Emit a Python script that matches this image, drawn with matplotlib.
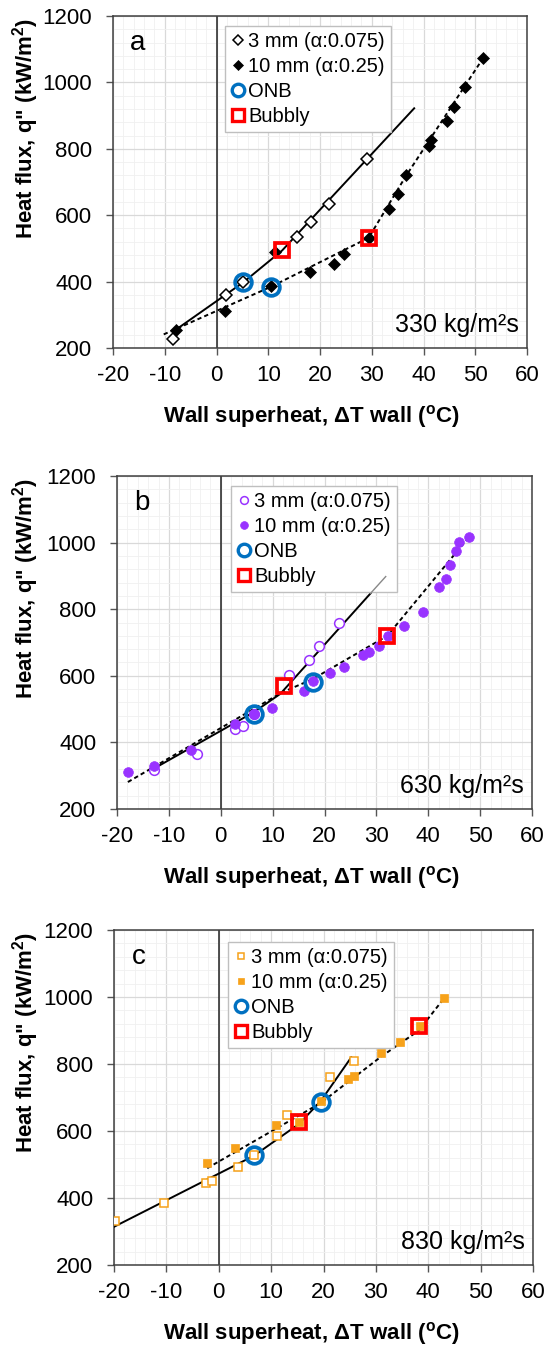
import matplotlib
matplotlib.use('Agg')
import matplotlib.pyplot as plt
from matplotlib.ticker import MultipleLocator
from matplotlib.lines import Line2D

plt.rcParams['font.family'] = ['Liberation Sans', 'DejaVu Sans']
plt.rcParams['mathtext.fontset'] = 'custom'
plt.rcParams['mathtext.rm'] = 'Liberation Sans'
plt.rcParams['mathtext.bf'] = 'Liberation Sans:bold'
plt.rcParams['mathtext.default'] = 'regular'
plt.rcParams['axes.unicode_minus'] = False

# ---------- panel a : 330 kg/m2s ----------
a_3mm_dt = [-8.4, 1.9, 5.2, 15.5, 18.2, 21.8, 29.0]
a_3mm_q = [228, 360, 398, 533, 581, 635, 768]
a_10mm_dt = [-7.9, 1.6, 10.6, 11.3, 18.0, 22.8, 24.7, 29.4, 33.3, 35.1, 36.6,
             41.1, 41.5, 44.6, 45.9, 48.0, 51.5]
a_10mm_q = [253, 311, 386, 490, 429, 454, 482, 531, 620, 665, 722,
            808, 828, 884, 925, 985, 1072]
a_onb_dt = [5.2, 10.6]
a_onb_q = [398, 385]
a_bub_dt = [12.7, 29.4]
a_bub_q = [494, 532]
a_fit3_dt = [-8.5, 5.2, 12.7, 38.2]
a_fit3_q = [248, 398, 494, 922]
a_fit10_dt = [-10.2, 10.6, 29.4, 36.6, 51.6]
a_fit10_q = [241, 385, 532, 718, 1075]

# ---------- panel b : 630 kg/m2s ----------
b_3mm_dt = [-12.8, -4.5, 2.8, 4.2, 6.5, 13.2, 17.0, 19.0, 22.8]
b_3mm_q = [318, 365, 441, 450, 485, 603, 648, 690, 760]
b_10mm_dt = [-17.9, -12.8, -5.7, 2.8, 6.5, 9.9, 16.1, 17.7, 21.0, 23.7, 27.4,
             28.6, 30.5, 32.3, 35.4, 39.0, 42.1, 43.5, 44.1, 45.4, 45.9, 47.9]
b_10mm_q = [311, 328, 378, 455, 485, 503, 553, 583, 608, 625, 663,
            670, 690, 720, 751, 791, 866, 891, 933, 975, 1003, 1018]
b_onb_dt = [6.5, 17.7]
b_onb_q = [485, 581]
b_bub_dt = [12.2, 32.1]
b_bub_q = [568, 720]
b_fit3_dt = [-12.7, 6.5, 11.5, 28.9]
b_fit3_q = [323, 492, 546, 848]
b_fit3_ext_dt = [28.9, 31.8]
b_fit3_ext_q = [848, 898]
b_fit10_dt = [-17.9, 11.8, 17.7, 32.1, 47.9]
b_fit10_q = [281, 550, 590, 720, 1018]

# ---------- panel c : 830 kg/m2s ----------
c_3mm_dt = [-19.9, -10.5, -2.4, -1.3, 3.6, 6.7, 11.1, 13.0, 21.3, 25.9]
c_3mm_q = [332, 384, 444, 452, 494, 528, 586, 648, 762, 809]
c_10mm_dt = [-2.2, 3.1, 10.9, 15.4, 19.5, 24.6, 25.8, 31.0, 34.7, 38.5, 43.1]
c_10mm_q = [505, 548, 618, 628, 690, 755, 765, 832, 865, 914, 998]
c_onb_dt = [6.7, 19.5]
c_onb_q = [528, 687]
c_bub_dt = [15.4, 38.2]
c_bub_q = [626, 914]
c_fit3_dt = [-20.0, 6.7, 15.4, 19.5, 25.3]
c_fit3_q = [314, 526, 622, 690, 820]
c_fit10_dt = [-2.2, 19.5, 31.0, 38.2, 43.1]
c_fit10_q = [489, 684, 822, 900, 998]

x_ticks = [-20, -10, 0, 10, 20, 30, 40, 50, 60]
y_ticks = [200, 400, 600, 800, 1000, 1200]

onb_color = '#0070c0'
bub_color = '#ff0000'

W, H = 555, 1345
fig = plt.figure(figsize=(W / 100, H / 100), dpi=100)


def panel(box, letter, flux, color, m3, m10, s3, s10,
          d3, d10, onb, bub, fit3, fit10, leg_px, ext=None):
    left, top, right, bottom = box
    ax = fig.add_axes([left / W, 1 - bottom / H, (right - left) / W, (bottom - top) / H])
    aw, ah = right - left, bottom - top

    ax.set_xlim(-20, 60)
    ax.set_ylim(200, 1200)
    ax.set_xticks(x_ticks)
    ax.set_yticks(y_ticks)
    ax.xaxis.set_minor_locator(MultipleLocator(2))
    ax.yaxis.set_minor_locator(MultipleLocator(40))
    ax.grid(True, which='major', color='#d9d9d9', lw=0.9)
    ax.grid(True, which='minor', color='#f0f0f0', lw=0.6)
    ax.set_axisbelow(True)
    ax.tick_params(which='major', direction='out', length=5, width=1, color='#555555',
                   labelsize=16, pad=10)
    ax.tick_params(axis='x', pad=7)
    ax.tick_params(which='minor', length=0)
    for s in ax.spines.values():
        s.set_color('#404040')
        s.set_linewidth(1.1)
    ax.axvline(0, color='#222222', lw=1.1, zorder=2)

    ax.plot(fit3[0], fit3[1], color='black', lw=1.4, zorder=3)
    if ext is not None:
        ax.plot(ext[0], ext[1], color='#888888', lw=1.0, zorder=7)
    ax.plot(fit10[0], fit10[1], color='black', lw=1.4, ls=(0, (2.2, 1.6)), zorder=3)

    ax.plot(d3[0], d3[1], ls='none', marker=m3, ms=s3, mfc='white', mec=color,
            mew=1.1, zorder=4)
    ax.plot(d10[0], d10[1], ls='none', marker=m10, ms=s10, mfc=color, mec=color,
            mew=0.5, zorder=4)
    ax.plot(onb[0], onb[1], ls='none', marker='o', ms=12, mfc='none', mec=onb_color,
            mew=2.7, zorder=5)
    ax.plot(bub[0], bub[1], ls='none', marker='s', ms=10.5, mfc='none', mec=bub_color,
            mew=2.7, zorder=5)

    handles = [
        Line2D([], [], ls='none', marker=m3, ms=s3 * 0.8, mfc='white', mec=color, mew=1.1),
        Line2D([], [], ls='none', marker=m10, ms=s10 * 0.8, mfc=color, mec=color, mew=0.5),
        Line2D([], [], ls='none', marker='o', ms=9, mfc='none', mec=onb_color, mew=2.4),
        Line2D([], [], ls='none', marker='s', ms=8.5, mfc='none', mec=bub_color, mew=2.4),
    ]
    labels = ['3 mm (α:0.075)', '10 mm (α:0.25)', 'ONB', 'Bubbly']
    lx, ly = leg_px
    leg = ax.legend(handles, labels, loc='upper left',
                    bbox_to_anchor=((lx - left) / aw, (bottom - ly) / ah),
                    borderaxespad=0, fontsize=14.5, handlelength=0.7,
                    handletextpad=0.15, borderpad=0.3, labelspacing=0.3,
                    fancybox=False, framealpha=1, edgecolor='#bfbfbf')
    leg.get_frame().set_linewidth(1.0)
    leg.set_zorder(6)

    ax.text(0.06, 0.92, letter, transform=ax.transAxes, fontsize=20,
            ha='center', va='center')
    ax.text(1 - 8 / aw, 16 / ah, flux, transform=ax.transAxes, fontsize=18,
            ha='right', va='baseline')

    ax.set_xlabel('Wall superheat, ΔT wall ($^{o}$C)', fontsize=16, fontweight='bold')
    ax.set_ylabel('Heat flux, q" (kW/m$^{2}$)', fontsize=16, fontweight='bold')
    ax.xaxis.set_label_coords((311 - left) / aw, -55 / ah)
    ax.yaxis.set_label_coords((41 - left) / aw, (bottom - top - 112) / ah)
    return ax


panel((113, 16, 527, 348), 'a', '330 kg/m²s', 'black', 'D', 'D', 6, 6,
      (a_3mm_dt, a_3mm_q), (a_10mm_dt, a_10mm_q), (a_onb_dt, a_onb_q),
      (a_bub_dt, a_bub_q), (a_fit3_dt, a_fit3_q), (a_fit10_dt, a_fit10_q),
      (225, 26))

panel((117, 476, 532, 809), 'b', '630 kg/m²s', '#9933ff', 'o', 'o', 7, 7,
      (b_3mm_dt, b_3mm_q), (b_10mm_dt, b_10mm_q), (b_onb_dt, b_onb_q),
      (b_bub_dt, b_bub_q), (b_fit3_dt, b_fit3_q), (b_fit10_dt, b_fit10_q),
      (231, 486), ext=(b_fit3_ext_dt, b_fit3_ext_q))

panel((114, 930, 533, 1265), 'c', '830 kg/m²s', '#f7a21a', 's', 's', 6, 5.5,
      (c_3mm_dt, c_3mm_q), (c_10mm_dt, c_10mm_q), (c_onb_dt, c_onb_q),
      (c_bub_dt, c_bub_q), (c_fit3_dt, c_fit3_q), (c_fit10_dt, c_fit10_q),
      (228, 942))

fig.savefig('out.png', dpi=100)
